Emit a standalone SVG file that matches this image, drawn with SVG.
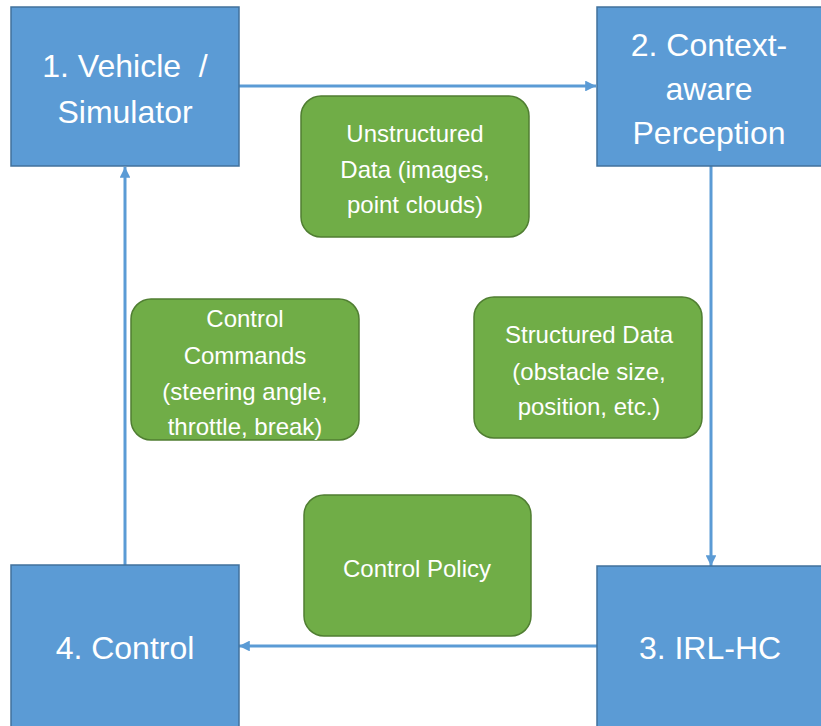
<svg xmlns="http://www.w3.org/2000/svg" width="821" height="726" viewBox="0 0 821 726">
<style>
.blue{fill:#5b9bd5;stroke:#41719c;stroke-width:1.5}
.green{fill:#70ad47;stroke:#507e32;stroke-width:1.5}
.bt{font-family:"Liberation Sans",Arial,sans-serif;font-size:32px;fill:#ffffff;text-anchor:middle}
.gt{font-family:"Liberation Sans",Arial,sans-serif;font-size:24px;fill:#ffffff;text-anchor:middle}
.conn{stroke:#5b9bd5;stroke-width:3;fill:none}
</style>
<defs>
<marker id="arr" viewBox="0 0 10 10" refX="10" refY="5" markerWidth="3.6" markerHeight="3.6" orient="auto" markerUnits="strokeWidth">
<path d="M0,0 L10,5 L0,10 z" fill="#5b9bd5"/>
</marker>
</defs>
<rect width="821" height="726" fill="#ffffff"/>
<g id="connectors">
<line class="conn" x1="239" y1="86" x2="596" y2="86" marker-end="url(#arr)"/>
<line class="conn" x1="711" y1="166" x2="711" y2="566" marker-end="url(#arr)"/>
<line class="conn" x1="597" y1="646" x2="239" y2="646" marker-end="url(#arr)"/>
<line class="conn" x1="125" y1="565" x2="125" y2="167" marker-end="url(#arr)"/>
</g>
<g id="node1">
<rect class="blue" x="11" y="7" width="228" height="159"/>
<text class="bt" x="125" y="77" xml:space="preserve">1. Vehicle  /</text>
<text class="bt" x="125" y="123">Simulator</text>
</g>
<g id="node2">
<rect class="blue" x="597" y="7" width="230" height="159"/>
<text class="bt" x="709" y="56">2. Context-</text>
<text class="bt" x="709" y="100">aware</text>
<text class="bt" x="709" y="144">Perception</text>
</g>
<g id="node3">
<rect class="blue" x="597" y="566" width="230" height="170"/>
<text class="bt" x="710" y="659">3. IRL-HC</text>
</g>
<g id="node4">
<rect class="blue" x="11" y="565" width="228" height="170"/>
<text class="bt" x="125" y="659">4. Control</text>
</g>
<g id="unstructured">
<rect class="green" x="301" y="96" width="228" height="141" rx="20"/>
<text class="gt" x="415" y="142">Unstructured</text>
<text class="gt" x="415" y="178">Data (images,</text>
<text class="gt" x="415" y="213">point clouds)</text>
</g>
<g id="commands">
<rect class="green" x="131" y="299" width="228" height="141" rx="20"/>
<text class="gt" x="245" y="327">Control</text>
<text class="gt" x="245" y="364">Commands</text>
<text class="gt" x="245" y="400">(steering angle,</text>
<text class="gt" x="245" y="435">throttle, break)</text>
</g>
<g id="structured">
<rect class="green" x="474" y="297" width="228" height="141" rx="20"/>
<text class="gt" x="589" y="343">Structured Data</text>
<text class="gt" x="589" y="380">(obstacle size,</text>
<text class="gt" x="589" y="415">position, etc.)</text>
</g>
<g id="policy">
<rect class="green" x="304" y="495" width="227" height="141" rx="20"/>
<text class="gt" x="417" y="577">Control Policy</text>
</g>
</svg>
